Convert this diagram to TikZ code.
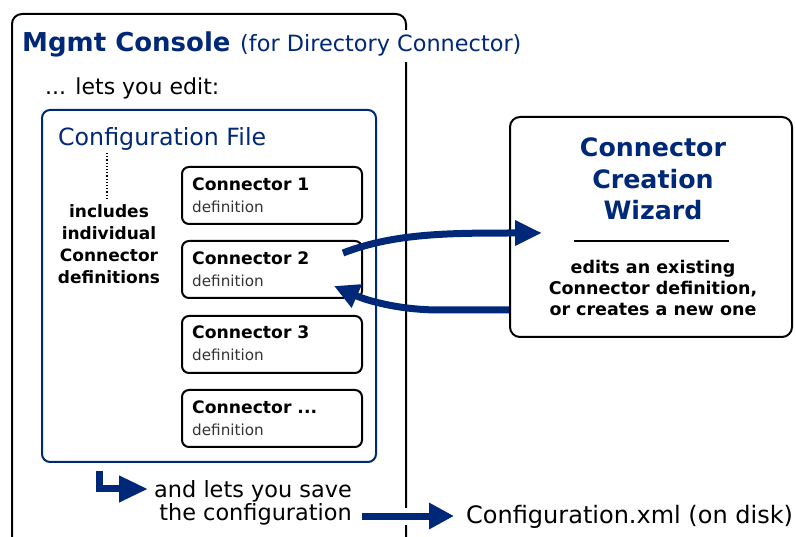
\documentclass[tikz,border=0pt]{standalone}
\usepackage{fontspec}
\setmainfont{DejaVu Sans}
\usetikzlibrary{arrows.meta}
\definecolor{navy}{RGB}{0,40,120}
\begin{document}
\begin{tikzpicture}[x=1pt,y=-1pt,
  txt/.style={inner sep=0pt,anchor=base west},
  ctxt/.style={inner sep=0pt,anchor=base},
  connbox/.style={draw=black,line width=2pt,rounded corners=7pt,minimum width=180pt,minimum height=57pt,inner sep=0pt},
  bigarrow/.style={draw=navy,line width=7pt,-{Triangle[length=27pt,width=24pt]}},
  cname/.style={txt,font=\fontsize{17.2}{19}\bfseries\selectfont},
  cdef/.style={txt,font=\fontsize{15.2}{17}\selectfont,text=black!80}]
\useasboundingbox (0,0) rectangle (796,537);
\fill[white] (0,0) rectangle (796,537);
% outer Mgmt Console frame (open at bottom)
\draw[line width=2pt,rounded corners=10pt] (12,540) -- (12,14) -- (406,14) -- (406,540);
\node[txt,font=\fontsize{26}{30}\bfseries\selectfont,text=navy] (mgmt) at (22,52) {Mgmt Console};
\node[txt,font=\fontsize{22.4}{26}\selectfont,text=navy,fill=white,inner xsep=2pt,inner ysep=5pt] (fordc) at (238,52) {(for Directory Connector)};
\node[txt,font=\fontsize{22}{26}\selectfont] (edit) at (45,95) {... lets you edit:};
% configuration file box
\draw[navy,line width=2pt,rounded corners=8pt] (42,110) rectangle (376,462);
\node[txt,font=\fontsize{23.7}{27}\selectfont,text=navy] (cfgf) at (58,146) {Configuration File};
\coordinate (dtop) at (107,153);
\coordinate (dbot) at (107,200);
\draw[line width=1.2pt,dotted] (dtop) -- (dbot);
\node[ctxt,font=\fontsize{17}{20}\bfseries\selectfont] (inc1) at (109,218) {includes};
\node[ctxt,font=\fontsize{17}{20}\bfseries\selectfont] (inc2) at (109,240) {individual};
\node[ctxt,font=\fontsize{17}{20}\bfseries\selectfont] (inc3) at (109,262) {Connector};
\node[ctxt,font=\fontsize{17}{20}\bfseries\selectfont] (inc4) at (109,284) {definitions};
% connector boxes
\node[connbox] (c1) at (272,195.5) {};
\node[connbox] (c2) at (272,269.5) {};
\node[connbox] (c3) at (272,344.5) {};
\node[connbox] (c4) at (272,418.5) {};
\node[cname] (c1n) at (192,191) {Connector 1};
\node[cdef] (c1d) at (192,213) {definition};
\node[cname] (c2n) at (192,265) {Connector 2};
\node[cdef] (c2d) at (192,287) {definition};
\node[cname] (c3n) at (192,339) {Connector 3};
\node[cdef] (c3d) at (192,361) {definition};
\node[cname] (c4n) at (192,414) {Connector ...};
\node[cdef] (c4d) at (192,436) {definition};
% wizard box
\node[draw=black,line width=2pt,rounded corners=10pt,minimum width=282pt,minimum height=220pt,inner sep=0pt] (wiz) at (651,227) {};
\node[ctxt,font=\fontsize{25.3}{28}\bfseries\selectfont,text=navy] (w1) at (653,157) {Connector};
\node[ctxt,font=\fontsize{25.3}{28}\bfseries\selectfont,text=navy] (w2) at (653,189) {Creation};
\node[ctxt,font=\fontsize{25.3}{28}\bfseries\selectfont,text=navy] (w3) at (653,220) {Wizard};
\coordinate (rl) at (574,241);
\coordinate (rr) at (729,241);
\draw[line width=2pt] (rl) -- (rr);
\node[ctxt,font=\fontsize{17.5}{20}\bfseries\selectfont] (wt1) at (653,274) {edits an existing};
\node[ctxt,font=\fontsize{17.5}{20}\bfseries\selectfont] (wt2) at (653,295) {Connector definition,};
\node[ctxt,font=\fontsize{17.5}{20}\bfseries\selectfont] (wt3) at (653,316) {or creates a new one};
% arrows between connector 2 and wizard
\coordinate (a1s) at (343,253);
\coordinate (a1e) at (542,233);
\draw[bigarrow] (a1s) .. controls (395,233) and (450,233) .. (a1e);
\coordinate (a2s) at (wiz.west |- 0,310);
\coordinate (a2m) at (440,310);
\coordinate (a2e) at (334,286);
\draw[bigarrow,-{Triangle[length=25pt,width=24pt]}] (a2s) -- (a2m) .. controls (400,310) and (368,301) .. (a2e);
% save arrow
\coordinate (ls) at (99,471);
\coordinate (lc) at (99,489);
\coordinate (le) at (148,489);
\draw[navy,line width=7pt,line join=miter,-{Triangle[length=29pt,width=25pt]}] (ls) -- (lc) -- (le);
\node[ctxt,anchor=base east,font=\fontsize{22.4}{26}\selectfont] (sv1) at (352,497) {and lets you save};
\node[ctxt,anchor=base east,font=\fontsize{22.4}{26}\selectfont] (sv2) at (352,521) {the configuration};
\node[txt,font=\fontsize{24}{28}\selectfont] (xml) at (466,523) {Configuration.xml (on disk)};
\coordinate (sas) at (362,516);
\coordinate (sae) at (454,516);
\draw[navy,line width=7pt,preaction={draw=white,line width=17pt,-},-{Triangle[length=25pt,width=25pt]}] (sas) -- (sae);
\end{tikzpicture}
\end{document}
